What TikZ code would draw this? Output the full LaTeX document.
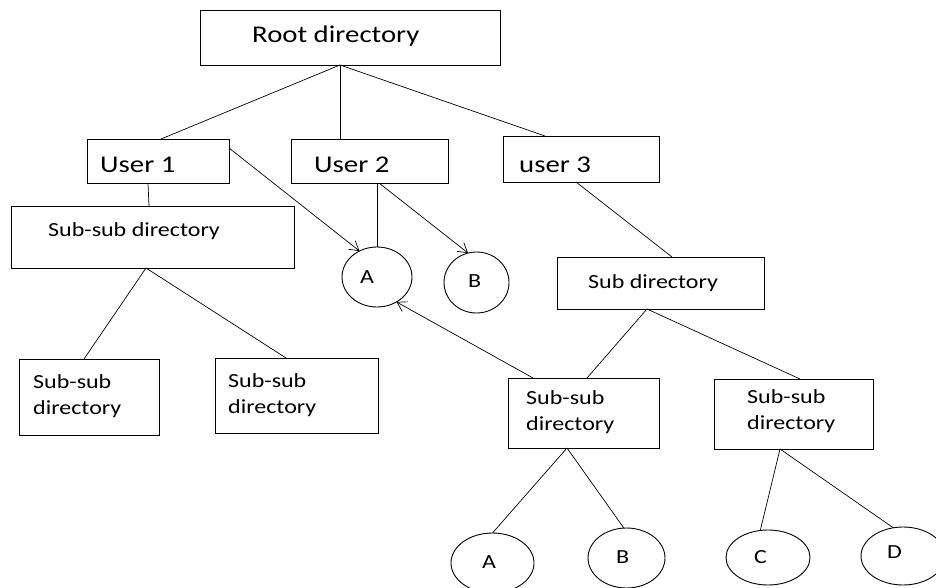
\documentclass[tikz,border=0pt]{standalone}
\usepackage{fontspec}
\setmainfont{Carlito}[FakeStretch=1.2]
\usetikzlibrary{shapes.geometric,arrows.meta}
\begin{document}
\begin{tikzpicture}[x=1pt,y=-1pt,
  box/.style={draw, rectangle, inner sep=0pt, outer sep=0pt, line width=0.9pt},
  ell/.style={draw, ellipse, inner sep=0pt, outer sep=0pt, line width=0.9pt},
  big/.style={inner sep=0pt, anchor=base west, font=\fontsize{24}{28}\selectfont},
  small/.style={inner sep=0pt, anchor=base west, align=left, font=\fontsize{20}{26}\selectfont},
  letter/.style={inner sep=0pt, anchor=base west, font=\fontsize{20}{24}\selectfont},
  conn/.style={line width=0.7pt},
  arr/.style={line width=0.7pt, -{Straight Barb[length=9pt,width=11pt]}}]
\useasboundingbox (0,0) rectangle (936,588);
% boxes
\node[box, minimum width=300pt, minimum height=55pt] (root) at (350,37.5) {};
\node[box, minimum width=142pt, minimum height=44pt] (u1) at (158,161) {};
\node[box, minimum width=157pt, minimum height=44pt] (u2) at (369.5,161) {};
\node[box, minimum width=156pt, minimum height=46pt] (u3) at (581,159) {};
\node[box, minimum width=283pt, minimum height=62pt] (ssd) at (152.5,237) {};
\node[box, minimum width=207pt, minimum height=52pt] (sub) at (660.5,283) {};
\node[box, minimum width=140pt, minimum height=76pt] (b1) at (89,397) {};
\node[box, minimum width=163pt, minimum height=75pt] (b2) at (296.5,395.5) {};
\node[box, minimum width=151pt, minimum height=70pt] (b3) at (583.5,413) {};
\node[box, minimum width=159pt, minimum height=70pt] (b4) at (793.5,414) {};
% ellipses
\node[ell, minimum width=70pt, minimum height=60pt] (eA1) at (377,277) {};
\node[ell, minimum width=65pt, minimum height=61pt] (eB1) at (476.5,282.5) {};
\node[ell, minimum width=83pt, minimum height=60pt] (eA2) at (492.5,563) {};
\node[ell, minimum width=77pt, minimum height=60pt] (eB2) at (626.5,558) {};
\node[ell, minimum width=84pt, minimum height=55pt] (eC) at (768,557.5) {};
\node[ell, minimum width=84pt, minimum height=58pt] (eD) at (903,556) {};
% texts
\node[big] (troot) at (252,43) {Root directory};
\node[big] (tu1) at (100,172) {User 1};
\node[big] (tu2) at (314,172) {User 2};
\node[big] (tu3) at (519,172) {user 3};
\node[small] (tssd) at (48,236) {Sub-sub directory};
\node[small] (tsub) at (588,288) {Sub directory};
\node[small] (tb1) at (33,414) {Sub-sub\\directory};
\node[small] (tb2) at (228,413) {Sub-sub\\directory};
\node[small] (tb3) at (526,430) {Sub-sub\\directory};
\node[small] (tb4) at (747,429) {Sub-sub\\directory};
\node[letter] (tA1) at (360,283) {A};
\node[letter] (tB1) at (468,287) {B};
\node[letter] (tA2) at (482,568) {A};
\node[letter] (tB2) at (616,563) {B};
\node[letter] (tC) at (754,563) {C};
\node[letter] (tD) at (887,558) {D};
% connectors
\draw[conn] ([xshift=140pt]root.south west) -- ([xshift=74pt]u1.north west);
\draw[conn] ([xshift=140pt]root.south west) -- ([xshift=49pt]u2.north west);
\draw[conn] ([xshift=140pt]root.south west) -- ([xshift=42pt]u3.north west);
\draw[conn] ([xshift=61pt]u1.south west) -- ([xshift=138pt]ssd.north west);
\draw[arr] ([yshift=-9pt]u1.north east) -- (eA1.124);
\draw[conn] ([xshift=86pt]u2.south west) -- (eA1.north);
\draw[arr] ([xshift=88pt]u2.south west) -- (eB1.106);
\draw[conn] ([xshift=73pt]u3.south west) -- ([xshift=115pt]sub.north west);
\draw[conn] ([xshift=135pt]ssd.south west) -- ([xshift=65pt]b1.north west);
\draw[conn] ([xshift=135pt]ssd.south west) -- ([xshift=71pt]b2.north west);
\draw[conn] ([xshift=90pt]sub.south west) -- ([xshift=79pt]b3.north west);
\draw[conn] ([xshift=90pt]sub.south west) -- ([xshift=86pt]b4.north west);
\draw[arr] ([xshift=25pt]b3.north west) -- (eA1.-52);
\draw[conn] ([xshift=59pt]b3.south west) -- (eA2.north);
\draw[conn] ([xshift=59pt]b3.south west) -- (eB2.95);
\draw[conn] ([xshift=66pt]b4.south west) -- (eC.106);
\draw[conn] ([xshift=66pt]b4.south west) -- (eD.109);
\end{tikzpicture}
\end{document}
